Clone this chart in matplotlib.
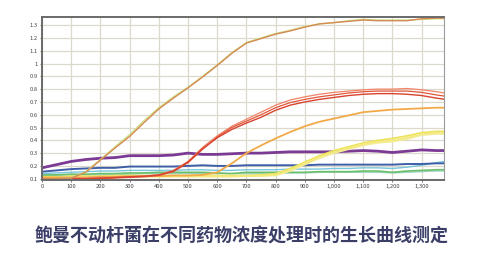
import numpy as np
import matplotlib
matplotlib.use("Agg")
import matplotlib.pyplot as plt
from matplotlib.ticker import FuncFormatter, MultipleLocator

plt.rcParams['font.family'] = ['Noto Sans CJK SC', 'DejaVu Sans']

# time points (min)
t = [0, 50, 100, 150, 200, 250, 300, 350, 400, 450, 500, 550, 600, 650, 700,
     750, 800, 850, 900, 950, 1000, 1050, 1100, 1150, 1200, 1250, 1300, 1350, 1380]

# OD readings
brown = [0.10, 0.10, 0.105, 0.15, 0.245, 0.34, 0.43, 0.54, 0.645, 0.73, 0.81, 0.895, 0.985, 1.08, 1.16,
         1.195, 1.23, 1.255, 1.285, 1.31, 1.32, 1.33, 1.34, 1.335, 1.335, 1.335, 1.35, 1.355, 1.355]
lime = [0.10, 0.10, 0.105, 0.155, 0.25, 0.35, 0.445, 0.555, 0.655, 0.74, 0.815, 0.9, 0.99, 1.085, 1.165,
        1.2, 1.235, 1.26, 1.29, 1.31, 1.32, 1.335, 1.345, 1.34, 1.34, 1.34, 1.345, 1.35, 1.35]
red1 = [0.10, 0.10, 0.10, 0.10, 0.105, 0.11, 0.115, 0.12, 0.13, 0.16, 0.23, 0.335, 0.42, 0.485, 0.535,
        0.58, 0.635, 0.675, 0.70, 0.72, 0.735, 0.75, 0.76, 0.765, 0.765, 0.76, 0.75, 0.73, 0.72]
red2 = [0.095, 0.095, 0.10, 0.10, 0.10, 0.105, 0.11, 0.115, 0.125, 0.155, 0.225, 0.33, 0.425, 0.5, 0.55,
        0.6, 0.655, 0.695, 0.72, 0.74, 0.755, 0.77, 0.78, 0.785, 0.785, 0.785, 0.775, 0.755, 0.745]
red3 = [0.10, 0.10, 0.105, 0.105, 0.11, 0.11, 0.115, 0.12, 0.13, 0.165, 0.235, 0.345, 0.435, 0.51, 0.565,
        0.62, 0.675, 0.715, 0.74, 0.76, 0.775, 0.785, 0.795, 0.80, 0.80, 0.805, 0.795, 0.78, 0.77]
orange = [0.11, 0.11, 0.11, 0.11, 0.115, 0.115, 0.12, 0.12, 0.12, 0.125, 0.125, 0.13, 0.15, 0.22, 0.30,
          0.36, 0.415, 0.465, 0.51, 0.545, 0.57, 0.595, 0.62, 0.63, 0.64, 0.645, 0.65, 0.655, 0.655]
yellow1 = [0.11, 0.11, 0.115, 0.115, 0.115, 0.12, 0.12, 0.12, 0.12, 0.12, 0.12, 0.12, 0.12, 0.12, 0.12,
           0.125, 0.13, 0.17, 0.22, 0.27, 0.31, 0.34, 0.37, 0.39, 0.40, 0.42, 0.45, 0.46, 0.46]
yellow2 = [0.115, 0.115, 0.12, 0.12, 0.12, 0.125, 0.125, 0.125, 0.125, 0.125, 0.125, 0.125, 0.125, 0.125, 0.125,
           0.13, 0.14, 0.18, 0.23, 0.28, 0.32, 0.35, 0.38, 0.40, 0.415, 0.435, 0.46, 0.47, 0.47]
yellow3 = [0.105, 0.105, 0.11, 0.11, 0.11, 0.115, 0.115, 0.115, 0.115, 0.115, 0.115, 0.115, 0.115, 0.115, 0.12,
           0.12, 0.125, 0.16, 0.21, 0.26, 0.30, 0.33, 0.36, 0.38, 0.39, 0.41, 0.44, 0.45, 0.45]
purple = [0.185, 0.21, 0.235, 0.25, 0.26, 0.265, 0.28, 0.28, 0.28, 0.285, 0.30, 0.29, 0.29, 0.295, 0.30,
          0.30, 0.305, 0.31, 0.31, 0.31, 0.31, 0.315, 0.32, 0.315, 0.305, 0.315, 0.325, 0.32, 0.32]
blue = [0.155, 0.165, 0.175, 0.18, 0.185, 0.185, 0.195, 0.195, 0.195, 0.195, 0.20, 0.205, 0.20, 0.20, 0.205,
        0.205, 0.205, 0.205, 0.205, 0.21, 0.21, 0.21, 0.21, 0.21, 0.21, 0.215, 0.215, 0.22, 0.22]
cyan = [0.14, 0.145, 0.15, 0.155, 0.16, 0.16, 0.165, 0.165, 0.165, 0.165, 0.17, 0.17, 0.165, 0.165, 0.17,
        0.17, 0.17, 0.175, 0.175, 0.175, 0.18, 0.18, 0.185, 0.185, 0.18, 0.19, 0.205, 0.225, 0.235]
green = [0.13, 0.13, 0.135, 0.135, 0.14, 0.14, 0.145, 0.145, 0.15, 0.15, 0.15, 0.15, 0.145, 0.14, 0.15,
         0.15, 0.15, 0.15, 0.15, 0.155, 0.155, 0.155, 0.16, 0.16, 0.15, 0.16, 0.165, 0.17, 0.17]
teal = [0.125, 0.125, 0.13, 0.13, 0.13, 0.135, 0.135, 0.14, 0.14, 0.14, 0.14, 0.14, 0.14, 0.14, 0.14,
        0.14, 0.145, 0.145, 0.145, 0.15, 0.15, 0.15, 0.15, 0.15, 0.145, 0.15, 0.155, 0.16, 0.16]

title = "鲍曼不动杆菌在不同药物浓度处理时的生长曲线测定"

fig = plt.figure(figsize=(4.84, 2.65), dpi=100)
ax = fig.add_axes([0.0868, 0.3208, 0.8302, 0.6132])

# draw back to front
ax.plot(t, teal, color="#9fd3c4", lw=1.0)
ax.plot(t, green, color="#6cbf6a", lw=1.2)
ax.plot(t, cyan, color="#78c6dc", lw=1.0)
ax.plot(t, blue, color="#3e5fa8", lw=1.4)
ax.plot(t, purple, color="#7b3b94", lw=2.0)
ax.plot(t, yellow3, color="#f3ec9a", lw=1.2)
ax.plot(t, yellow2, color="#ece25a", lw=1.2)
ax.plot(t, yellow1, color="#f4ea7c", lw=1.2)
ax.plot(t, orange, color="#f2aa48", lw=1.3)
ax.plot(t, red3, color="#ef8468", lw=0.9)
ax.plot(t, red2, color="#e2563a", lw=0.9)
ax.plot(t, red1, color="#d8442e", lw=1.0)
ax.plot(t, lime, color="#cfe08a", lw=1.0)
ax.plot(t, brown, color="#d48a50", lw=1.0)

ax.set_xlim(0, 1376)
ax.set_ylim(0.09, 1.36)
ax.xaxis.set_major_locator(MultipleLocator(100))
ax.yaxis.set_major_locator(MultipleLocator(0.1))
ax.xaxis.set_major_formatter(FuncFormatter(lambda v, p: f"{int(round(v)):,}"))
ax.yaxis.set_major_formatter(FuncFormatter(lambda v, p: f"{v:.1f}".rstrip("0").rstrip(".")))
ax.tick_params(labelsize=4.2, length=1.5, width=0.5, pad=1.5, colors="#444444")
ax.grid(True, color="#ddd8cc", lw=0.9)
ax.set_axisbelow(True)

for side in ["top", "left", "bottom"]:
    ax.spines[side].set_color("#6a6a6a")
    ax.spines[side].set_linewidth(1.4)
ax.spines["right"].set_color("#9a9a9a")
ax.spines["right"].set_linewidth(0.8)

fig.text(0.5, 0.108, title, ha="center", va="center", fontsize=13,
         fontweight="bold", color="#3b3f68")

fig.savefig("out.png", dpi=100)
